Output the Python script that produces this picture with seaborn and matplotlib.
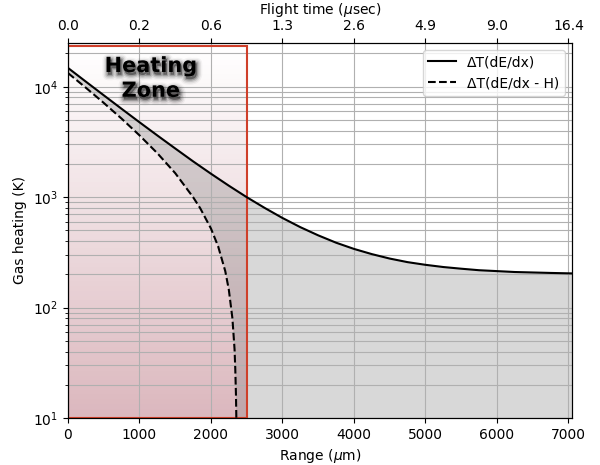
import numpy as np
import matplotlib
matplotlib.use("Agg")
import matplotlib.pyplot as plt
import matplotlib.patheffects as pe
from matplotlib.colors import LinearSegmentedColormap
import seaborn as sns

# ---- data ----
range_um = [0, 250, 500, 750, 1000, 1250, 1500, 1750, 2000, 2250, 2500, 2750,
            3000, 3250, 3500, 3750, 4000, 4250, 4500, 4750, 5000, 5250, 5500,
            5750, 6000, 6250, 6500, 6750, 7050]
dT_dEdx = [14800, 11120, 8370, 6310, 4770, 3620, 2760, 2110, 1630, 1270, 1000, 800,
           648, 535, 451, 387, 340, 305, 278, 258, 244, 233, 225,
           218, 214, 210, 208, 206, 204]

range_dash = [0, 250, 500, 750, 1000, 1250, 1500, 1750, 1850, 2000, 2100, 2200,
              2250, 2300, 2330, 2340, 2350, 2356]
dT_dEdx_H = [13300, 9790, 7140, 5140, 3630, 2500, 1650, 1000, 793, 520, 359, 214,
             145, 80, 42, 28, 16, 9]

top_tick_pos = [0, 1000, 2000, 3000, 4000, 5000, 6000, 7000]
flight_labels = ['0.0', '0.2', '0.6', '1.3', '2.6', '4.9', '9.0', '16.4']

heat_zone = (0, 2500)
y_limits = (10, 25000)
heat_top = 23500

# ---- figure ----
fig = plt.figure(figsize=(6, 4.65), dpi=100)
ax = fig.add_axes([0.1133, 0.101, 0.84, 0.807])
ax.set_yscale('log')

# heating zone gradient
yedges = np.logspace(np.log10(y_limits[0]), np.log10(heat_top), 80)
xedges = np.array(heat_zone)
cvals = np.linspace(1, 0, len(yedges) - 1).reshape(-1, 1)
cmap = LinearSegmentedColormap.from_list('hz', [(1, 1, 1), (0.86, 0.72, 0.745)])
ax.pcolormesh(xedges, yedges, cvals, cmap=cmap, vmin=0, vmax=1, zorder=0.5,
              shading='flat')
ax.add_patch(plt.Rectangle((heat_zone[0], y_limits[0]), heat_zone[1] - heat_zone[0],
                           heat_top - y_limits[0], fill=False,
                           edgecolor='#cf3f2a', lw=1.5, zorder=3))

# gray fill between curves
poly_x = list(range_um) + [range_um[-1], range_dash[-1]] + list(range_dash[::-1])
poly_y = list(dT_dEdx) + [y_limits[0], y_limits[0]] + list(dT_dEdx_H[::-1])
ax.fill(poly_x, poly_y, color='gray', alpha=0.3, lw=0, zorder=1)

sns.lineplot(x=range_um, y=dT_dEdx, ax=ax, color='black', lw=1.5,
             label='ΔT(dE/dx)', zorder=4)
sns.lineplot(x=range_dash, y=dT_dEdx_H, ax=ax, color='black', lw=1.5,
             linestyle='--', label='ΔT(dE/dx - H)', zorder=4)

ax.set_xlim(0, 7050)
ax.set_ylim(*y_limits)
ax.grid(True, which='both', axis='y', color='#b0b0b0', lw=0.8)
ax.grid(True, which='major', axis='x', color='#b0b0b0', lw=0.8)
ax.set_xlabel('Range ($\\mu$m)')
ax.set_ylabel('Gas heating (K)')
ax.legend(loc='upper right')

txt = ax.text(1160, 11900, 'Heating\nZone', ha='center', va='center',
              fontsize=15, fontweight='bold', color='black', zorder=5,
              multialignment='center', linespacing=1.3)
txt.set_path_effects([
    pe.Stroke(linewidth=8, foreground='black', alpha=0.04, offset=(1, -2)),
    pe.Stroke(linewidth=6, foreground='black', alpha=0.07, offset=(1, -2)),
    pe.Stroke(linewidth=4, foreground='black', alpha=0.12, offset=(1, -2)),
    pe.Stroke(linewidth=2, foreground='black', alpha=0.2, offset=(1, -2)),
    pe.Normal()])

ax2 = ax.twiny()
ax2.set_xlim(ax.get_xlim())
ax2.set_xticks(top_tick_pos)
ax2.set_xticklabels(flight_labels)
ax2.set_xlabel('Flight time ($\\mu$sec)')

fig.savefig('out.png', dpi=100)
